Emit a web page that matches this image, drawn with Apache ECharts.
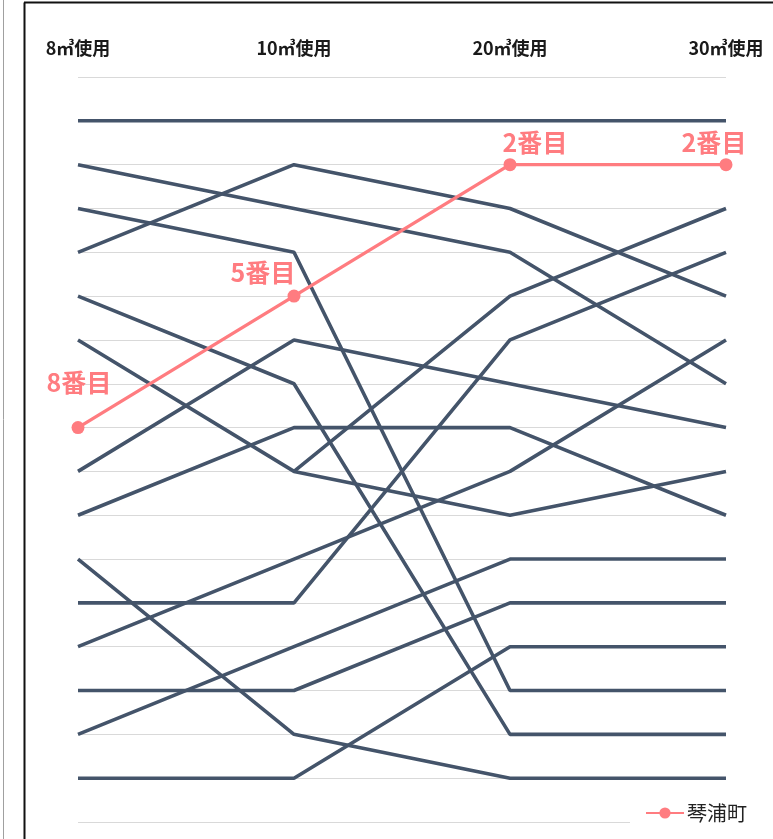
<!DOCTYPE html>
<html>
<head>
<meta charset="utf-8">
<script src="https://cdn.jsdelivr.net/npm/echarts@6/dist/echarts.min.js"></script>
<style>
  html, body { margin: 0; padding: 0; background: #fff; }
  #chart { width: 773px; height: 839px; }
</style>
</head>
<body>
<div id="chart"></div>
<script>
// Usage brackets (columns of the ranking chart)
const categories = ['8㎥使用', '10㎥使用', '20㎥使用', '30㎥使用'];

// Highlighted town: rank in each bracket
const highlightName = '琴浦町';
const highlightRanks = [8, 5, 2, 2];

// Other towns: rank in each bracket (null = not ranked)
const otherRanks01 = [1, 1, 1, 1];
const otherRanks02 = [2, 3, 4, 7];
const otherRanks03 = [3, 4, 14, 14];
const otherRanks04 = [4, 2, 3, 5];
const otherRanks05 = [5, 7, 15, 15];
const otherRanks06 = [6, 9, 10, 9];
const otherRanks07 = [null, 9, 5, 3];
const otherRanks08 = [9, 6, 7, 8];
const otherRanks09 = [10, 8, 8, 10];
const otherRanks10 = [11, 15, 16, 16];
const otherRanks11 = [12, 12, 6, 4];
const otherRanks12 = [13, 11, 9, 6];
const otherRanks13 = [14, 14, 12, 12];
const otherRanks14 = [15, 13, 11, 11];
const otherRanks15 = [16, 16, 13, 13];

const otherTowns = [
  otherRanks01, otherRanks02, otherRanks03, otherRanks04, otherRanks05,
  otherRanks06, otherRanks07, otherRanks08, otherRanks09, otherRanks10,
  otherRanks11, otherRanks12, otherRanks13, otherRanks14, otherRanks15
];

// Label offsets for the highlighted town's rank labels
const labelOffsets = [[1, -21], [-31, 0], [25, 2], [-12, 2]];

const DARK = '#44546A';
const PINK = '#FF7C80';

const chart = echarts.init(document.getElementById('chart'), null, { renderer: 'canvas' });

const series = otherTowns.map((ranks, i) => ({
  type: 'line',
  id: 'other' + i,
  data: ranks,
  symbol: 'none',
  silent: true,
  z: 2,
  lineStyle: { color: DARK, width: 3.6 },
  emphasis: { disabled: true }
}));

series.push({
  type: 'line',
  name: highlightName,
  data: highlightRanks.map((v, i) => ({
    value: v,
    label: { offset: labelOffsets[i] }
  })),
  symbol: 'circle',
  symbolSize: 13,
  z: 5,
  itemStyle: { color: PINK },
  lineStyle: { color: PINK, width: 3.4 },
  label: {
    show: true,
    position: 'top',
    formatter: p => p.value + '番目',
    color: PINK,
    fontSize: 25,
    fontWeight: 'bold',
    fontFamily: 'Noto Sans CJK JP'
  },
  emphasis: { disabled: true }
});

chart.setOption({
  animation: false,
  backgroundColor: '#fff',
  textStyle: { fontFamily: 'Noto Sans CJK JP' },
  grid: { left: 78, right: 47, top: 77, bottom: 17 },
  legend: {
    data: [highlightName],
    left: 630,
    top: 788,
    padding: [15, 20, 15, 15],
    backgroundColor: '#fff',
    itemWidth: 38,
    itemHeight: 14,
    itemGap: 4,
    textStyle: { fontSize: 20, color: '#222', fontFamily: 'Noto Sans CJK JP', padding: [0, 0, 0, -2] }
  },
  xAxis: {
    type: 'category',
    data: categories,
    position: 'top',
    boundaryGap: false,
    axisLine: { show: false },
    axisTick: { show: false },
    splitLine: { show: false },
    axisLabel: {
      margin: 20,
      color: '#1a1a1a',
      fontSize: 18,
      fontWeight: 'bold',
      fontFamily: 'Noto Sans CJK JP'
    }
  },
  yAxis: {
    type: 'value',
    inverse: true,
    min: 0,
    max: 17,
    interval: 1,
    axisLine: { show: false },
    axisTick: { show: false },
    axisLabel: { show: false },
    splitLine: { lineStyle: { color: '#d9d9d9', width: 1 } }
  },
  graphic: [
    { type: 'line', shape: { x1: 3.5, y1: 0, x2: 3.5, y2: 839 }, style: { stroke: '#a0a0a0', lineWidth: 1 }, silent: true },
    { type: 'line', shape: { x1: 24.5, y1: 2.5, x2: 24.5, y2: 839 }, style: { stroke: '#111', lineWidth: 2 }, silent: true },
    { type: 'line', shape: { x1: 24, y1: 2.5, x2: 773, y2: 2.5 }, style: { stroke: '#111', lineWidth: 2 }, silent: true }
  ],
  series: series
});
</script>
</body>
</html>
